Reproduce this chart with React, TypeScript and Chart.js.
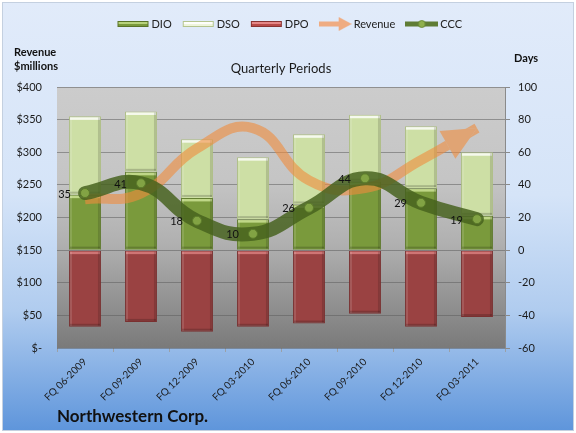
import React, { useEffect, useRef } from "react";
import { Chart, registerables } from "chart.js";

Chart.register(...registerables);

const categories = [
  "FQ 06-2009",
  "FQ 09-2009",
  "FQ 12-2009",
  "FQ 03-2010",
  "FQ 06-2010",
  "FQ 09-2010",
  "FQ 12-2010",
  "FQ 03-2011",
];
const dioDays = [34, 48, 32, 19, 28, 42, 38, 21];
const dsoDays = [48, 37, 36, 38, 43, 41, 38, 39];
const dpoDays = [-47, -44, -50, -47, -45, -39, -47, -41];
const revenueMillions = [228, 237, 306, 337, 257, 245, 288, 337];
const cccDays = [35, 41, 18, 10, 26, 44, 29, 19];
const revenueTickLabels = ["$-", "$50", "$100", "$150", "$200", "$250", "$300", "$350", "$400"];
const dayTickLabels = ["-60", "-40", "-20", "0", "20", "40", "60", "80", "100"];

const FONT = "Lato, 'Open Sans', 'DejaVu Sans', sans-serif";

function makeIcon(draw: (c: CanvasRenderingContext2D) => void, w = 33, h = 14) {
  const c = document.createElement("canvas");
  c.width = w;
  c.height = h;
  const ctx = c.getContext("2d") as CanvasRenderingContext2D;
  draw(ctx);
  return c;
}

function barIcon(fill: string, stroke: string, hi: string) {
  return makeIcon((c) => {
    c.fillStyle = fill;
    c.fillRect(1, 4, 31, 6);
    c.fillStyle = hi;
    c.fillRect(2, 5, 29, 2);
    c.strokeStyle = stroke;
    c.lineWidth = 1;
    c.strokeRect(1.5, 4.5, 30, 5);
  });
}

export default function App() {
  const ref = useRef<HTMLCanvasElement>(null);

  useEffect(() => {
    const canvas = ref.current;
    if (!canvas) return;
    Chart.defaults.font.family = FONT;

    const icons = [
      barIcon("#7a9a3c", "#5a7428", "rgba(200,225,140,0.8)"),
      barIcon("#eef5dc", "#b5c58f", "rgba(255,255,255,0.9)"),
      barIcon("#b84a48", "#8a3432", "rgba(240,150,150,0.8)"),
      makeIcon((c) => {
        c.fillStyle = "#efac82";
        c.fillRect(0, 4.5, 21, 5);
        c.beginPath();
        c.moveTo(20, 0);
        c.lineTo(33, 7);
        c.lineTo(20, 14);
        c.closePath();
        c.fill();
      }),
      makeIcon((c) => {
        c.strokeStyle = "#5f7d35";
        c.lineWidth = 5;
        c.beginPath();
        c.moveTo(0, 7);
        c.lineTo(33, 7);
        c.stroke();
        c.fillStyle = "#8fb04c";
        c.strokeStyle = "#6a8a35";
        c.lineWidth = 1;
        c.beginPath();
        c.arc(16.5, 7, 3.5, 0, Math.PI * 2);
        c.fill();
        c.stroke();
      }),
    ];

    const arrowTriangle = (chart: any) => {
      const pts = chart.getDatasetMeta(3).data;
      const n = pts.length;
      const p = pts[n - 1];
      const q = pts[n - 2];
      const dx = p.x - q.x;
      const dy = p.y - q.y;
      const len = Math.hypot(dx, dy) || 1;
      const ux = dx / len;
      const uy = dy / len;
      const nx = -uy;
      const ny = ux;
      const L = 34;
      const W = 16;
      const bx = p.x - ux * L;
      const by = p.y - uy * L;
      return [
        [p.x, p.y],
        [bx + nx * W, by + ny * W],
        [bx - nx * W, by - ny * W],
      ];
    };

    const legendShiftPlugin = {
      id: "legendShift",
      afterLayout(chart: any) {
        const lg = chart.legend;
        if (lg) {
          lg.left += 8;
          lg.right += 8;
        }
      },
    };

    const backgroundPlugin = {
      id: "bg",
      beforeDraw(chart: any) {
        const { ctx, width, height, chartArea } = chart;
        ctx.save();
        ctx.fillStyle = "#ffffff";
        ctx.fillRect(0, 0, width, height);
        const g = ctx.createLinearGradient(0, 2, 0, height - 2);
        g.addColorStop(0, "#e1ebfa");
        g.addColorStop(0.45, "#d5e4f8");
        g.addColorStop(0.72, "#b0ccef");
        g.addColorStop(1, "#5e95db");
        ctx.fillStyle = g;
        ctx.fillRect(2, 2, width - 4, height - 4);
        ctx.strokeStyle = "#c4d0e0";
        ctx.lineWidth = 1;
        ctx.strokeRect(2.5, 2.5, width - 5, height - 5);
        const pg = ctx.createLinearGradient(0, chartArea.top, 0, chartArea.bottom);
        pg.addColorStop(0, "#cccccc");
        pg.addColorStop(0.35, "#c5c5c5");
        pg.addColorStop(0.6, "#b0b0b0");
        pg.addColorStop(1, "#7a7a7a");
        ctx.fillStyle = pg;
        ctx.fillRect(chartArea.left, chartArea.top, chartArea.right - chartArea.left, chartArea.bottom - chartArea.top);
        ctx.restore();
      },
    };

    const bevelPlugin = {
      id: "bevel",
      afterDatasetDraw(chart: any, args: any) {
        if (args.index > 2) return;
        const { ctx } = chart;
        const meta = args.meta;
        const hiColors = ["rgba(215,235,160,0.75)", "rgba(255,255,255,0.8)", "rgba(230,140,140,0.7)"];
        ctx.save();
        meta.data.forEach((el: any) => {
          const { x, y, base, width } = el.getProps(["x", "y", "base", "width"], true);
          const left = x - width / 2;
          const top = Math.min(y, base);
          const bottom = Math.max(y, base);
          const h = bottom - top;
          if (h < 4) return;
          ctx.fillStyle = hiColors[args.index];
          ctx.fillRect(left + 1, top + 1, width - 2, 2.5);
          ctx.fillStyle = "rgba(255,255,255,0.12)";
          ctx.fillRect(left + 1, top + 1, 2, h - 2);
          ctx.fillStyle = "rgba(0,0,0,0.14)";
          ctx.fillRect(left + width - 3, top + 1, 2, h - 2);
          ctx.fillStyle = "rgba(0,0,0,0.18)";
          ctx.fillRect(left + 1, bottom - 3, width - 2, 2);
        });
        ctx.restore();
      },
    };

    const arrowPlugin = {
      id: "arrow",
      beforeDatasetDraw(chart: any, args: any) {
        if (args.index !== 3) return;
        const { ctx, width, height } = chart;
        const t = arrowTriangle(chart);
        ctx.save();
        ctx.beginPath();
        ctx.rect(0, 0, width, height);
        ctx.moveTo(t[0][0], t[0][1]);
        ctx.lineTo(t[1][0], t[1][1]);
        ctx.lineTo(t[2][0], t[2][1]);
        ctx.closePath();
        ctx.clip("evenodd");
      },
      afterDatasetDraw(chart: any, args: any) {
        if (args.index !== 3) return;
        const { ctx } = chart;
        ctx.restore();
        const t = arrowTriangle(chart);
        ctx.save();
        ctx.fillStyle = "rgba(240,140,60,0.6)";
        ctx.beginPath();
        ctx.moveTo(t[0][0], t[0][1]);
        ctx.lineTo(t[1][0], t[1][1]);
        ctx.lineTo(t[2][0], t[2][1]);
        ctx.closePath();
        ctx.fill();
        ctx.restore();
      },
    };

    const textPlugin = {
      id: "texts",
      afterDraw(chart: any) {
        const { ctx } = chart;
        ctx.save();
        ctx.fillStyle = "#111111";
        ctx.textBaseline = "middle";
        ctx.textAlign = "left";
        ctx.font = `bold 11px ${FONT}`;
        ctx.fillText("Revenue", 14, 52);
        ctx.fillText("$millions", 14, 66);
        ctx.fillText("Days", 514, 58);
        // CCC data labels
        const meta = chart.getDatasetMeta(4);
        ctx.font = `11px ${FONT}`;
        ctx.textAlign = "right";
        meta.data.forEach((pt: any, i: number) => {
          ctx.fillText(String(cccDays[i]), pt.x - 14, pt.y + 1);
        });
        ctx.restore();
      },
    };

    const chart = new Chart(canvas, {
      type: "bar",
      data: {
        labels: categories,
        datasets: [
          {
            type: "bar",
            label: "DIO",
            data: dioDays,
            yAxisID: "y1",
            stack: "days",
            backgroundColor: "#7a9a3c",
            borderColor: "#5f7a2c",
            borderWidth: 1,
            order: 2,
          },
          {
            type: "bar",
            label: "DSO",
            data: dsoDays,
            yAxisID: "y1",
            stack: "days",
            backgroundColor: "#cddfa5",
            borderColor: "#aebf85",
            borderWidth: 1,
            order: 2,
          },
          {
            type: "bar",
            label: "DPO",
            data: dpoDays,
            yAxisID: "y1",
            stack: "days",
            backgroundColor: "#9a4242",
            borderColor: "#7a3030",
            borderWidth: 1,
            order: 2,
          },
          {
            type: "line",
            label: "Revenue",
            data: revenueMillions,
            yAxisID: "y",
            borderColor: "rgba(240,140,60,0.6)",
            borderWidth: 10,
            tension: 0.45,
            pointRadius: 0,
            fill: false,
            order: 1,
          },
          {
            type: "line",
            label: "CCC",
            data: cccDays,
            yAxisID: "y1",
            stack: "ccc",
            borderColor: "rgba(70,98,30,0.84)",
            borderWidth: 14,
            borderCapStyle: "round",
            borderJoinStyle: "round",
            tension: 0.45,
            pointRadius: 4.5,
            pointBackgroundColor: "#82a344",
            pointBorderColor: "#5b7a2a",
            pointBorderWidth: 1,
            fill: false,
            order: 0,
          },
        ] as any,
      },
      options: {
        animation: false,
        responsive: true,
        maintainAspectRatio: false,
        layout: { padding: { top: 5, left: 8, right: 18, bottom: 4 } },
        datasets: { bar: { categoryPercentage: 0.57, barPercentage: 1 } },
        plugins: {
          tooltip: { enabled: false },
          legend: {
            display: true,
            position: "top",
            labels: {
              usePointStyle: true,
              pointStyleWidth: 26,
              padding: 13.5,
              color: "#222222",
              font: { size: 11, family: FONT },
              sort: (a: any, b: any) => a.datasetIndex - b.datasetIndex,
              generateLabels: (ch: any) =>
                ch.data.datasets.map((ds: any, i: number) => ({
                  text: ds.label,
                  fillStyle: "rgba(0,0,0,0)",
                  strokeStyle: "rgba(0,0,0,0)",
                  lineWidth: 0,
                  pointStyle: icons[i],
                  datasetIndex: i,
                  hidden: false,
                  fontColor: "#222222",
                })),
            },
          },
          title: {
            display: true,
            text: "Quarterly Periods",
            position: "top",
            fullSize: false,
            weight: 500,
            color: "#1a1a1a",
            font: { size: 13, weight: "normal", family: FONT },
            padding: { top: 21.7, bottom: 10.2 },
          },
          subtitle: {
            display: true,
            text: "Northwestern Corp.",
            position: "bottom",
            align: "start",
            fullSize: false,
            color: "#111111",
            font: { size: 17, weight: "bold", family: FONT },
            padding: { top: 0, bottom: 1.8 },
          },
        } as any,
        scales: {
          x: {
            stacked: true,
            grid: { offset: true, drawOnChartArea: false, tickLength: 4, color: "#9aa0a8" },
            border: { display: false },
            ticks: {
              minRotation: 45,
              maxRotation: 45,
              padding: 4,
              color: "#1a1a1a",
              font: { size: 10, family: FONT },
            },
            afterFit: (s: any) => {
              s.height = 58.8;
            },
          },
          y: {
            position: "left",
            min: 0,
            max: 400,
            ticks: {
              stepSize: 50,
              padding: 15,
              color: "#1a1a1a",
              font: { size: 11, family: FONT },
              callback: (_v: any, i: number) => revenueTickLabels[i],
            },
            grid: { color: "rgba(95,95,95,0.55)", drawTicks: false },
            border: { display: false },
            afterFit: (s: any) => {
              s.width = 49;
            },
          },
          y1: {
            position: "right",
            stacked: true,
            min: -60,
            max: 100,
            ticks: {
              stepSize: 20,
              padding: 8,
              color: "#1a1a1a",
              font: { size: 11, family: FONT },
              callback: (_v: any, i: number) => dayTickLabels[i],
            },
            grid: { drawOnChartArea: false, tickLength: 5, color: "#8a8a8a" },
            border: { display: true, color: "#8a8a8a" },
            afterFit: (s: any) => {
              s.width = 53;
            },
          },
        } as any,
      },
      plugins: [legendShiftPlugin, backgroundPlugin, bevelPlugin, arrowPlugin, textPlugin],
    } as any);

    return () => chart.destroy();
  }, []);

  return (
    <div style={{ position: "absolute", left: 0, top: 0, width: 576, height: 433 }}>
      <canvas ref={ref} />
    </div>
  );
}
